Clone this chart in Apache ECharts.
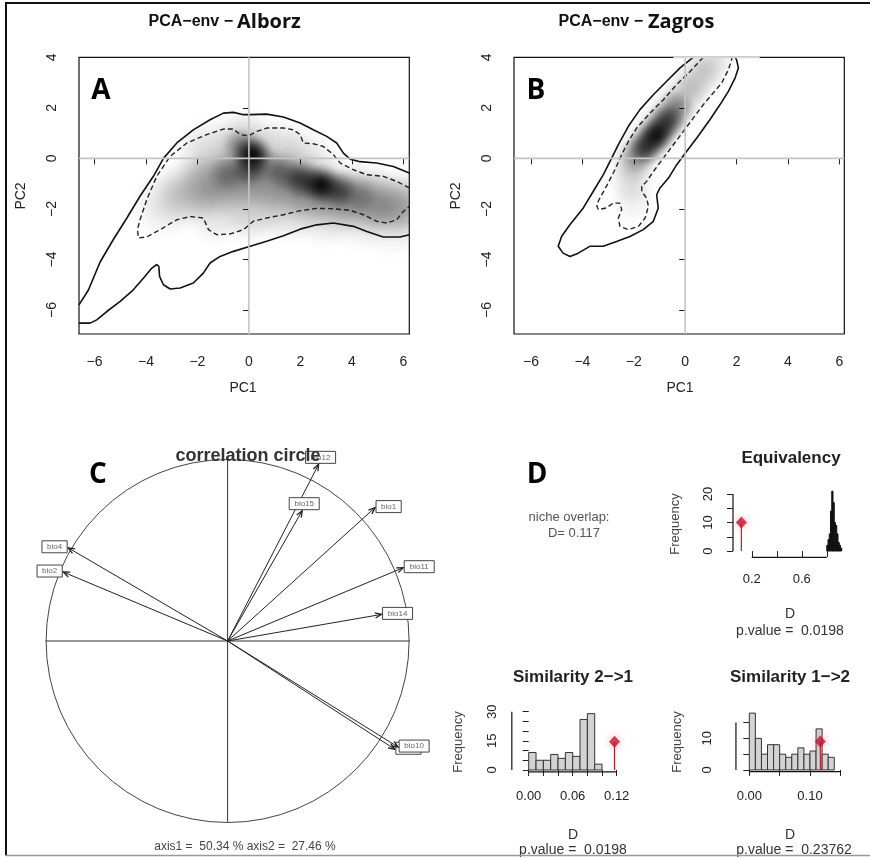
<!DOCTYPE html>
<html><head><meta charset="utf-8">
<script src="https://cdn.jsdelivr.net/npm/echarts@6/dist/echarts.min.js"></script>
<style>html,body{margin:0;padding:0;background:#fff}#c{width:870px;height:858px}</style>
</head><body><div id="c"></div><script>
// ---------------- DATA ----------------
const pcXTicks = [-6, -4, -2, 0, 2, 4, 6];
const pcYTicks = [-6, -4, -2, 0, 2, 4];

// Alborz niche (panel A): contour lines [PC1, PC2]
const alborzOuterTop = [[-6.6,-5.8],[-6.23,-5.2],[-5.78,-4.1],[-5.26,-3.2],[-4.74,-2.36],[-4.23,-1.5],[-3.71,-0.71],[-3.32,0],[-2.8,0.61],[-2.16,1.13],[-1.51,1.53],[-0.99,1.79],[-0.6,1.82],[-0.21,1.73],[0.05,1.73],[0.69,1.75],[1.34,1.64],[1.99,1.4],[2.5,1.13],[3.02,0.87],[3.41,0.61],[3.67,0.21],[3.93,-0.03],[4.32,-0.13],[4.96,-0.18],[5.61,-0.32],[6.23,-0.58]];
const alborzOuterBottom = [[6.23,-3.02],[5.87,-3.11],[5.22,-3.11],[4.58,-2.89],[4.06,-2.69],[3.28,-2.56],[2.63,-2.63],[1.99,-2.8],[1.34,-3.06],[0.69,-3.28],[0.05,-3.48],[-0.6,-3.68],[-1.12,-3.88],[-1.51,-4.14],[-1.77,-4.54],[-2.16,-4.93],[-2.67,-5.13],[-3.06,-5.17],[-3.32,-5.0],[-3.47,-4.67],[-3.5,-4.27],[-3.58,-4.2],[-3.77,-4.34],[-4.1,-4.74],[-4.49,-5.2],[-5.0,-5.66],[-5.52,-6.06],[-5.91,-6.39],[-6.17,-6.52],[-6.6,-6.52]];
const alborzInner = [[6.23,-1.17],[5.74,-0.91],[5.22,-0.71],[4.58,-0.65],[4.06,-0.45],[3.54,-0.18],[3.28,0.15],[2.89,0.47],[2.5,0.58],[2.11,0.61],[1.99,0.94],[1.73,1.13],[1.34,1.2],[0.69,1.2],[0.31,1.07],[-0.02,0.9],[-0.34,0.94],[-0.6,1.16],[-0.99,1.16],[-1.64,0.94],[-2.41,0.61],[-3.06,0.08],[-3.58,-0.71],[-3.97,-1.64],[-4.23,-2.43],[-4.33,-2.82],[-4.29,-3.15],[-3.97,-3.11],[-3.45,-2.82],[-2.8,-2.43],[-2.28,-2.3],[-1.77,-2.36],[-1.57,-2.82],[-1.25,-3.02],[-0.73,-2.99],[-0.21,-2.82],[0.17,-2.49],[0.69,-2.36],[1.34,-2.23],[1.99,-2.07],[2.63,-1.98],[3.28,-1.99],[3.93,-2.06],[4.45,-2.23],[4.96,-2.49],[5.35,-2.56],[5.74,-2.43],[6.0,-2.1],[6.23,-1.9]];
// occurrence density samples [PC1, PC2, relative density]: broad background and dense cores
const alborzBroad = [[-3.2,-1.8,0.12],[-2.3,-1.3,0.22],[-1.4,-1.0,0.28],[-0.5,-0.8,0.3],[0.5,-0.8,0.3],[1.5,-1.0,0.3],[2.5,-1.3,0.3],[3.5,-1.5,0.3],[4.5,-1.6,0.3],[5.4,-1.8,0.26],[6.2,-1.9,0.22],[-1.6,0.2,0.14],[-0.2,0.6,0.2],[1.2,0.3,0.15],[2.3,-0.2,0.12],[-1.2,-2.1,0.12],[0.2,-2.0,0.18],[1.6,-2.0,0.16],[3.0,-2.2,0.14],[4.4,-2.3,0.12],[5.6,-2.6,0.08]];
const alborzCore = [[0.15,0.15,0.9],[0.0,-0.4,0.5],[-0.3,0.45,0.4],[-0.8,-0.6,0.28],[2.8,-1.05,0.9],[2.1,-0.85,0.6],[3.5,-1.25,0.55],[1.4,-0.6,0.35],[0.7,-0.3,0.25],[4.3,-1.4,0.18]];

// Zagros niche (panel B)
const zagrosOuter = [[0.32,4.01],[-0.2,3.58],[-0.72,3.05],[-1.24,2.52],[-1.76,1.93],[-2.21,1.27],[-2.6,0.54],[-2.86,0.01],[-3.19,-0.65],[-3.58,-1.31],[-3.97,-1.97],[-4.48,-2.62],[-4.81,-3.09],[-4.94,-3.48],[-4.75,-3.75],[-4.48,-3.88],[-4.16,-3.75],[-3.71,-3.48],[-3.19,-3.48],[-2.67,-3.29],[-2.15,-3.09],[-1.63,-2.82],[-1.24,-2.49],[-1.05,-1.97],[-1.11,-1.44],[-0.98,-1.17],[-0.65,-0.78],[-0.33,-0.25],[0.06,0.28],[0.45,0.81],[0.96,1.53],[1.35,2.12],[1.68,2.65],[1.94,3.18],[2.07,3.58],[2.0,3.9],[1.94,4.01]];
const zagrosInner = [[0.7,4.0],[0.19,3.44],[-0.33,2.92],[-0.85,2.32],[-1.37,1.79],[-1.89,1.2],[-2.21,0.67],[-2.47,0.15],[-2.73,-0.44],[-3.06,-1.1],[-3.32,-1.57],[-3.45,-1.83],[-3.38,-2.03],[-3.06,-1.96],[-2.8,-1.77],[-2.54,-1.77],[-2.47,-2.03],[-2.6,-2.36],[-2.54,-2.69],[-2.21,-2.82],[-1.82,-2.69],[-1.56,-2.36],[-1.43,-1.89],[-1.5,-1.57],[-1.69,-1.31],[-1.69,-1.11],[-1.5,-0.91],[-1.18,-0.44],[-0.85,0.01],[-0.46,0.54],[-0.07,1.07],[0.32,1.6],[0.7,2.12],[1.09,2.59],[1.42,2.98],[1.68,3.51],[1.81,3.91],[1.81,4.0]];
const zagrosBroad = [[-2.0,-0.1,0.22],[-1.5,0.55,0.3],[-1.0,1.2,0.32],[-0.5,1.85,0.28],[0.0,2.5,0.2],[0.5,3.15,0.18],[1.0,3.8,0.15],[-2.1,-0.9,0.12],[-2.0,-1.7,0.06]];
const zagrosCore = [[-1.1,0.95,0.85],[-1.5,0.5,0.65],[-0.7,1.45,0.6],[-1.85,0.1,0.25],[-0.35,1.95,0.25]];

// Correlation circle (panel C)
const corNames = ['bio12','bio15','bio1','bio11','bio14','bio7','bio10','bio4','bio2'];
const corAxis1 = [0.50, 0.41, 0.81, 0.965, 0.846, 0.919, 0.937, -0.876, -0.903];
const corAxis2 = [0.976, 0.72, 0.737, 0.405, 0.147, -0.598, -0.586, 0.515, 0.381];

// Niche overlap tests (panel D)
const observedD = 0.117;
const eqBinStart = 0.80, eqBinWidth = 0.01;
const eqCounts = [2,4,6,14,21,17,10,9,6,3,2,1];
const eqObsHeight = 10;
const s21BinStart = 0.00, s21BinWidth = 0.01;
const s21Counts = [9,5,5,8,6,9,7,26,29,3];
const s21ObsHeight = 14.5;
const s12BinStart = 0.00, s12BinWidth = 0.01;
const s12Counts = [18,10,5,8,8,5,4,5,7,5,6,13,5,4];
const s12ObsHeight = 9;
const eqXTicks = [0.2,0.4,0.6,0.8], eqXLabels = [0.2,0.6];
const eqYTicks = [0,5,10,15,20], eqYLabels = [0,10,20];
const s21XTicks = [0,0.02,0.04,0.06,0.08,0.10,0.12], s21XLabels = [0,0.06,0.12];
const s21YTicks = [0,5,10,15,20,25,30], s21YLabels = [0,15,30];
const s12XTicks = [0,0.05,0.10,0.15], s12XLabels = [0,0.10];
const s12YTicks = [0,5,10,15], s12YLabels = [0,10];

// ---------------- LAYOUT ----------------
const F = 'Liberation Sans, Arial, sans-serif';
const FB = '"Open Sans", "Noto Sans", sans-serif';
const L = {
  A: {left:79, top:57.3, width:330.3, height:276.7, x:[-6.6,6.23], y:[-6.95,4]},
  B: {left:514, top:57.3, width:330.3, height:276.7, x:[-6.66,6.19], y:[-6.95,4]},
  C: {left:45.6, top:460, width:364, height:362, x:[-1,1], y:[-1,1]},
  E: {left:733, top:490.04, width:116.25, height:67.26, x:[0.05,0.98], y:[-2.2,21.4]},
  S21: {left:511.83, top:705.84, width:112.2, height:66.1, x:[-0.023,0.13], y:[-1,33]},
  S12: {left:735.95, top:705.2, width:113.5, height:66.5, x:[-0.022,0.165], y:[-0.55,20.5]}
};
const keys = ['A','B','C','E','S21','S12'];
const minusFmt = v => String(v).replace('-', '\u2212');

const grids = keys.map((k,i) => ({
  left: L[k].left, top: L[k].top, width: L[k].width, height: L[k].height,
  show: i < 2, borderColor: '#111', borderWidth: 1.2, backgroundColor: '#fff', containLabel: false
}));

function axisPair(i, k, xt, xl, yt, yl, xfmt, yfmt, xm, ym, fs) {
  const common = {type:'value', gridIndex:i, splitLine:{show:false}, axisLine:{show:false}};
  return [
    Object.assign({}, common, {min:L[k].x[0], max:L[k].x[1],
      axisTick:{show:true, customValues:xt, length:6, lineStyle:{color:'#222', width:1}},
      axisLabel:{show:true, customValues:xl, margin:xm, fontSize:fs, fontFamily:F, color:'#222', formatter:xfmt}}),
    Object.assign({}, common, {min:L[k].y[0], max:L[k].y[1],
      axisTick:{show:true, customValues:yt, length:6, lineStyle:{color:'#222', width:1}},
      axisLabel:{show:true, customValues:yl, margin:ym, rotate:90, fontSize:fs, fontFamily:F, color:'#222', formatter:yfmt}})
  ];
}
const ax = [
  axisPair(0,'A',pcXTicks,pcXTicks,pcYTicks,pcYTicks,minusFmt,minusFmt,21,20,14),
  axisPair(1,'B',pcXTicks,pcXTicks,pcYTicks,pcYTicks,minusFmt,minusFmt,21,20,14),
  axisPair(2,'C',[],[],[],[],null,null,8,8,12),
  axisPair(3,'E',eqXTicks,eqXLabels,eqYTicks,eqYLabels,v=>v.toFixed(1),v=>String(v),16,18,13),
  axisPair(4,'S21',s21XTicks,s21XLabels,s21YTicks,s21YLabels,v=>v.toFixed(2),v=>String(v),18,13,13),
  axisPair(5,'S12',s12XTicks,s12XLabels,s12YTicks,s12YLabels,v=>v.toFixed(2),v=>String(v),18,22,13)
];
ax[2][0].show = false; ax[2][1].show = false;
const xAxes = ax.map(a => a[0]);
const yAxes = ax.map(a => a[1]);

function lineS(i, data, color, width, type, z, clip) {
  return {type:'line', xAxisIndex:i, yAxisIndex:i, data:data, symbol:'none', showSymbol:false,
    silent:true, clip: clip !== false, z: z || 3, lineStyle:{color:color, width:width, type:type || 'solid'}};
}
function densityS(i, data, radius) {
  return {type:'custom', xAxisIndex:i, yAxisIndex:i, data:data, clip:true, silent:true, z:1,
    renderItem: function(params, api) {
      const c = api.coord([api.value(0), api.value(1)]);
      const s = api.size([1, 1]);
      const r = radius * (s[0] + s[1]) / 2;
      return {type:'circle', shape:{cx:c[0], cy:c[1], r:r},
        style:{opacity: api.value(2), fill: new echarts.graphic.RadialGradient(0.5,0.5,0.5,[
          {offset:0, color:'rgba(0,0,0,1)'},{offset:0.2, color:'rgba(0,0,0,0.92)'},
          {offset:0.4, color:'rgba(0,0,0,0.7)'},{offset:0.6, color:'rgba(0,0,0,0.4)'},
          {offset:0.8, color:'rgba(0,0,0,0.13)'},{offset:1, color:'rgba(0,0,0,0)'}])}};
    }};
}
function histS(i, start, width, counts, fill, stroke) {
  return {type:'custom', xAxisIndex:i, yAxisIndex:i, silent:true, z:2,
    data: counts.map((c, j) => [start + j*width, start + (j+1)*width, c]),
    renderItem: function(params, api) {
      const p0 = api.coord([api.value(0), 0]);
      const p1 = api.coord([api.value(1), api.value(2)]);
      return {type:'rect', shape:{x:p0[0], y:p1[1], width:p1[0]-p0[0], height:p0[1]-p1[1]},
        style:{fill:fill, stroke:stroke, lineWidth:1}};
    }};
}
function histAxes(i, k, xt, yt) {
  return [
    lineS(i, [[xt[0], L[k].y[0]], [xt[xt.length-1], L[k].y[0]]], '#111', 1.2, 'solid', 4, false),
    lineS(i, [[L[k].x[0], yt[0]], [L[k].x[0], yt[yt.length-1]]], '#111', 1.2, 'solid', 4, false)
  ];
}
function obsS(i, h) {
  return [
    lineS(i, [[observedD, 0], [observedD, h]], '#d2142c', 1.2, 'solid', 5),
    {type:'scatter', xAxisIndex:i, yAxisIndex:i, data:[[observedD, h]], symbol:'diamond', symbolSize:[11,12],
      silent:true, z:6, itemStyle:{color:'#c8102e', shadowBlur:10, shadowColor:'rgba(255,60,80,0.55)'}}
  ];
}

const series = [
  densityS(0, alborzBroad, 1.5),
  densityS(0, alborzCore, 0.85),
  lineS(0, alborzOuterTop, '#111', 1.6),
  lineS(0, alborzOuterBottom, '#111', 1.6),
  lineS(0, alborzInner, '#222', 1.4, [5,3]),
  lineS(0, [[L.A.x[0],0],[L.A.x[1],0]], '#c4c4c4', 1.6, 'solid', 4),
  lineS(0, [[0,L.A.y[0]],[0,L.A.y[1]]], '#c4c4c4', 1.6, 'solid', 4),

  densityS(1, zagrosBroad, 1.05),
  densityS(1, zagrosCore, 0.8),
  lineS(1, zagrosOuter, '#111', 1.6),
  lineS(1, zagrosInner, '#222', 1.4, [5,3]),
  lineS(1, [[L.B.x[0],0],[L.B.x[1],0]], '#c4c4c4', 1.6, 'solid', 4),
  lineS(1, [[0,L.B.y[0]],[0,L.B.y[1]]], '#c4c4c4', 1.6, 'solid', 4),
  lineS(1, [[-0.46, L.B.y[1]],[2.9, L.B.y[1]]], '#d8d8d8', 1.8, 'solid', 5, false),

  lineS(2, [[-1,0],[1,0]], '#333', 1),
  lineS(2, [[0,-1],[0,1]], '#333', 1),
  {type:'custom', xAxisIndex:2, yAxisIndex:2, data:[[0,0]], silent:true, z:3,
    renderItem: function(params, api) {
      const c = api.coord([0,0]); const s = api.size([1,1]);
      return {type:'circle', shape:{cx:c[0], cy:c[1], r:(s[0]+s[1])/2}, style:{fill:null, stroke:'#444', lineWidth:1}};
    }},
  {type:'custom', xAxisIndex:2, yAxisIndex:2, silent:true, z:4,
    data: corNames.map((n, j) => [corAxis1[j], corAxis2[j]]),
    renderItem: function(params, api) {
      const name = corNames[params.dataIndex];
      const o = api.coord([0,0]);
      const t = api.coord([api.value(0), api.value(1)]);
      const dx = t[0]-o[0], dy = t[1]-o[1], len = Math.hypot(dx,dy), ux = dx/len, uy = dy/len;
      const hl = 7, ha = 0.38, ca = Math.cos(ha), sa = Math.sin(ha);
      const h1 = [t[0]-hl*(ux*ca - uy*sa), t[1]-hl*(uy*ca + ux*sa)];
      const h2 = [t[0]-hl*(ux*ca + uy*sa), t[1]-hl*(uy*ca - ux*sa)];
      const w = name.length*4.8 + 6, h = 12;
      let cx, cy;
      if (Math.abs(dx) > Math.abs(dy)) { cx = t[0] + Math.sign(dx)*(w/2 + 1); cy = t[1] - 1; }
      else { cx = t[0] + 2; cy = t[1] - h/2 - 1; }
      return {type:'group', children:[
        {type:'line', shape:{x1:o[0], y1:o[1], x2:t[0], y2:t[1]}, style:{stroke:'#222', lineWidth:1}},
        {type:'polyline', shape:{points:[h1, t, h2]}, style:{stroke:'#222', lineWidth:1.3, fill:null}},
        {type:'rect', shape:{x:cx-w/2, y:cy-h/2, width:w, height:h}, style:{fill:'#fff', stroke:'#444', lineWidth:1}},
        {type:'text', x:cx, y:cy, style:{text:name, font:'8px ' + F, fill:'#666', align:'center', verticalAlign:'middle', textAlign:'center', textVerticalAlign:'middle'}}
      ]};
    }},

  histS(3, eqBinStart, eqBinWidth, eqCounts, '#111', '#111'),
  ...histAxes(3, 'E', eqXTicks, eqYTicks),
  ...obsS(3, eqObsHeight),
  histS(4, s21BinStart, s21BinWidth, s21Counts, '#d3d3d3', '#333'),
  ...histAxes(4, 'S21', s21XTicks, s21YTicks),
  ...obsS(4, s21ObsHeight),
  histS(5, s12BinStart, s12BinWidth, s12Counts, '#d3d3d3', '#333'),
  ...histAxes(5, 'S12', s12XTicks, s12YTicks),
  ...obsS(5, s12ObsHeight)
];

function T(text, x, y, font, fill, extra) {
  return Object.assign({type:'text', x:x, y:y, silent:true, z:10,
    style:{text:text, font:font, fill:fill || '#000', align:'center', verticalAlign:'middle', textAlign:'center', textVerticalAlign:'middle'}}, extra || {});
}
function TR(text, x, y, font, fill) {
  return {type:'text', x:x, y:y, silent:true, z:10, style:{text:text, font:font, fill:fill||'#000', align:'right', verticalAlign:'bottom', textAlign:'right', textVerticalAlign:'bottom'}};
}
function TLft(text, x, y, font, fill) {
  return {type:'text', x:x, y:y, silent:true, z:10, style:{text:text, font:font, fill:fill||'#000', align:'left', verticalAlign:'bottom', textAlign:'left', textVerticalAlign:'bottom'}};
}
const rot = {rotation: Math.PI/2};
const graphic = [
  {type:'line', z:20, shape:{x1:6, y1:2.5, x2:6, y2:856}, style:{stroke:'#111', lineWidth:2}},
  {type:'line', z:20, shape:{x1:5, y1:3, x2:870, y2:3}, style:{stroke:'#111', lineWidth:2}},
  {type:'line', z:20, shape:{x1:5, y1:855.5, x2:870, y2:855.5}, style:{stroke:'#999', lineWidth:1.5}},
  TR('PCA\u2212env \u2212', 233, 30, 'bold 16px ' + F, '#111'),
  TLft('Alborz', 237, 32, 'bold 20px ' + FB, '#111'),
  TR('PCA\u2212env \u2212', 643, 30, 'bold 16px ' + F, '#111'),
  TLft('Zagros', 648, 32, 'bold 20px ' + FB, '#111'),
  T('A', 101, 91, 'bold 28px ' + FB, '#000'),
  T('B', 536, 91, 'bold 28px ' + FB, '#000'),
  T('C', 98, 475, 'bold 28px ' + FB, '#000'),
  T('D', 537, 475, 'bold 28px ' + FB, '#000'),
  T('PC1', 243, 388, '14px ' + F, '#222'),
  T('PC2', 21.5, 196, '14px ' + F, '#222', rot),
  T('PC1', 680, 388, '14px ' + F, '#222'),
  T('PC2', 456.5, 196, '14px ' + F, '#222', rot),
  T('correlation circle', 248, 456, 'bold 18px ' + F, '#333'),
  T('axis1 =  50.34 % axis2 =  27.46 %', 245, 847, '12px ' + F, '#444'),
  T('niche overlap:', 569, 517, '13px ' + F, '#555'),
  T('D= 0.117', 574, 533, '13px ' + F, '#555'),
  T('Equivalency', 791, 458, 'bold 17px ' + F, '#222'),
  T('Frequency', 675, 524, '13px ' + F, '#444', rot),
  T('D', 790, 614, '14px ' + F, '#333'),
  T('p.value =  0.0198', 790, 631, '14px ' + F, '#333'),
  T('Similarity 2\u2212>1', 573, 677, 'bold 17px ' + F, '#222'),
  T('Frequency', 458, 742, '13px ' + F, '#444', rot),
  T('D', 573, 835, '14px ' + F, '#333'),
  T('p.value =  0.0198', 573, 850, '14px ' + F, '#333'),
  T('Similarity 1\u2212>2', 790, 677, 'bold 17px ' + F, '#222'),
  T('Frequency', 677, 742, '13px ' + F, '#444', rot),
  T('D', 790, 835, '14px ' + F, '#333'),
  T('p.value =  0.23762', 794, 850, '14px ' + F, '#333')
];

const chart = echarts.init(document.getElementById('c'));
chart.setOption({
  animation:false, backgroundColor:'#fff',
  grid: grids, xAxis: xAxes, yAxis: yAxes, series: series, graphic: graphic
});
</script></body></html>
